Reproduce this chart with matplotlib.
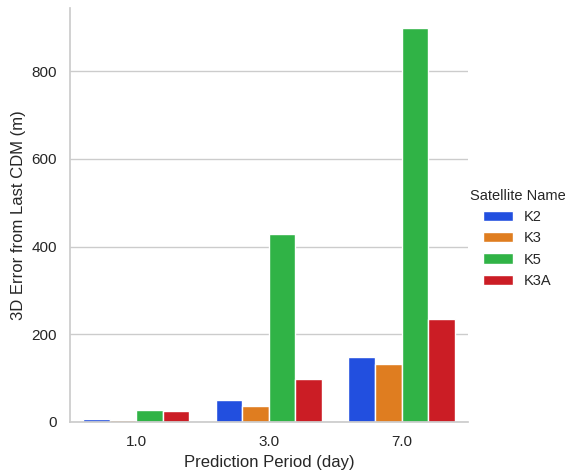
import matplotlib
matplotlib.use("Agg")
import matplotlib.pyplot as plt
import seaborn as sns
import pandas as pd

periods = ["1.0", "3.0", "7.0"]
satellites = ["K2", "K3", "K5", "K3A"]
errors = {
    "K2": [6, 51, 149],
    "K3": [5, 37, 133],
    "K5": [28, 428, 899],
    "K3A": [24, 99, 235],
}

rows = []
for sat in satellites:
    for p, v in zip(periods, errors[sat]):
        rows.append({"Prediction Period (day)": p, "Satellite Name": sat,
                     "3D Error from Last CDM (m)": v})
df = pd.DataFrame(rows)

sns.set_theme(style="whitegrid")
plt.rcParams['font.family'] = ['Liberation Sans', 'DejaVu Sans']

fig = plt.figure(figsize=(5.65, 4.72), dpi=100)
ax = fig.add_axes([0.124, 0.106, 0.704, 0.877])
sns.barplot(data=df, x="Prediction Period (day)", y="3D Error from Last CDM (m)",
            hue="Satellite Name", hue_order=satellites, order=periods,
            palette="bright", ax=ax, errorbar=None)
sns.despine(ax=ax)
ax.xaxis.grid(False)
sns.move_legend(ax, "center left", bbox_to_anchor=(0.821, 0.495),
                bbox_transform=fig.transFigure, frameon=False, borderaxespad=0,
                title="Satellite Name", fontsize=10.5, title_fontsize=10.5)

fig.savefig("out.png", dpi=100)
